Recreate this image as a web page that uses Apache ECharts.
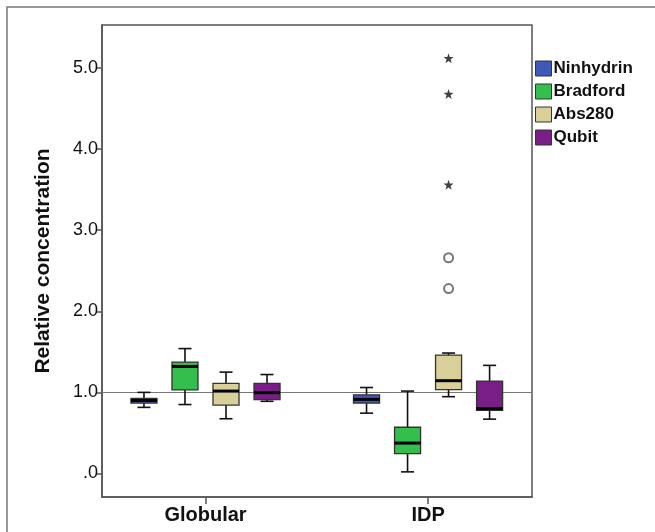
<!DOCTYPE html>
<html>
<head>
<meta charset="utf-8">
<script src="https://cdn.jsdelivr.net/npm/echarts@6/dist/echarts.min.js"></script>
<style>
  html, body { margin: 0; padding: 0; background: #fff; }
  #ch1 { width: 655px; height: 532px; }
</style>
</head>
<body>
<div id="ch1"></div>
<script>
// groups on the x axis and methods inside each group
const groups = ['Globular', 'IDP'];
const methods = ['Ninhydrin', 'Bradford', 'Abs280', 'Qubit'];
const colors = ['#3d5ab9', '#34be4b', '#d8d098', '#7a1e87'];
const yTicks = [0, 1, 2, 3, 4, 5];

// [min, q1, median, q3, max] per group
const ninhydrin = [[0.815, 0.868, 0.90, 0.926, 1.0], [0.744, 0.868, 0.914, 0.97, 1.06]];
const bradford = [[0.85, 1.03, 1.32, 1.374, 1.54], [0.02, 0.244, 0.375, 0.57, 1.016]];
const abs280 = [[0.675, 0.843, 1.016, 1.11, 1.25], [0.947, 1.033, 1.144, 1.46, 1.485]];
const qubit = [[0.89, 0.91, 0.996, 1.11, 1.22], [0.67, 0.778, 0.80, 1.14, 1.333]];

// IDP / Abs280 outliers (circles) and extremes (stars)
const abs280Outliers = [2.28, 2.66];
const abs280Extremes = [3.56, 4.68, 5.12];

const allBoxes = [ninhydrin, bradford, abs280, qubit];

const cht1 = echarts.init(document.getElementById('ch1'));

const groupPos = [1, 2];
const slot = 0.1843;
const offsets = [-1.5, -0.5, 0.5, 1.5].map((k) => k * slot);
const boxW = 0.117;

function renderBox(params, api) {
  const x = api.value(0);
  const half = api.size([boxW, 0])[0] / 2;
  const pMin = api.coord([x, api.value(1)]);
  const pQ1 = api.coord([x, api.value(2)]);
  const pMed = api.coord([x, api.value(3)]);
  const pQ3 = api.coord([x, api.value(4)]);
  const pMax = api.coord([x, api.value(5)]);
  const cx = pMin[0];
  const line = { stroke: '#111', lineWidth: 1.6 };
  return {
    type: 'group',
    children: [
      { type: 'line', shape: { x1: cx, y1: pMax[1], x2: cx, y2: pQ3[1] }, style: line },
      { type: 'line', shape: { x1: cx, y1: pQ1[1], x2: cx, y2: pMin[1] }, style: line },
      { type: 'line', shape: { x1: cx - half / 2, y1: pMax[1], x2: cx + half / 2, y2: pMax[1] }, style: line },
      { type: 'line', shape: { x1: cx - half / 2, y1: pMin[1], x2: cx + half / 2, y2: pMin[1] }, style: line },
      {
        type: 'rect',
        shape: { x: cx - half, y: pQ3[1], width: half * 2, height: pQ1[1] - pQ3[1] },
        style: { fill: api.visual('color'), stroke: '#333', lineWidth: 1.3 },
      },
      { type: 'line', shape: { x1: cx - half, y1: pMed[1], x2: cx + half, y2: pMed[1] }, style: { stroke: '#000', lineWidth: 3 } },
    ],
  };
}

const boxSeries = methods.map((name, i) => ({
  name,
  type: 'custom',
  renderItem: renderBox,
  itemStyle: { color: colors[i], borderColor: '#333' },
  encode: { x: 0, y: [1, 2, 3, 4, 5] },
  data: allBoxes[i].map((d, g) => [groupPos[g] + offsets[i], ...d]),
  z: 3,
}));

boxSeries[0].markLine = {
  silent: true,
  symbol: 'none',
  label: { show: false },
  lineStyle: { color: '#777', width: 1.2, type: 'solid' },
  data: [{ yAxis: 1 }],
  z: 1,
};

const starPath = 'path://M0,-10L2.35,-3.24L9.51,-3.09L3.8,1.24L5.88,8.09L0,4L-5.88,8.09L-3.8,1.24L-9.51,-3.09L-2.35,-3.24Z';
const outX = groupPos[1] + offsets[2];

const options1 = {
  animation: false,
  backgroundColor: '#fff',
  textStyle: { fontFamily: 'Liberation Sans, Arial, sans-serif' },
  graphic: [
    {
      type: 'rect',
      shape: { x: 7, y: 7, width: 700, height: 600 },
      style: { fill: 'none', stroke: '#777', lineWidth: 1.5 },
    },
  ],
  grid: {
    left: 102, right: 123, top: 25, bottom: 35,
    show: true, borderColor: '#555', borderWidth: 1.5,
  },
  legend: {
    orient: 'vertical',
    left: 530,
    top: 55,
    itemGap: 6,
    itemWidth: 16,
    itemHeight: 15,
    icon: 'rect',
    data: methods,
    itemStyle: { borderColor: '#333', borderWidth: 1 },
    textStyle: { fontSize: 17, fontWeight: 'bold', color: '#111', padding: [0, 0, 0, -3] },
  },
  xAxis: {
    type: 'value',
    min: 0.535,
    max: 2.467,
    splitLine: { show: false },
    axisLine: { show: true, onZero: false, lineStyle: { color: '#555', width: 1.5 } },
    axisTick: { show: true, customValues: groupPos, length: 7, lineStyle: { color: '#555', width: 1.5 } },
    axisLabel: {
      customValues: groupPos,
      formatter: (v) => groups[groupPos.indexOf(v)],
      fontSize: 20,
      fontWeight: 'bold',
      color: '#111',
      margin: 8,
    },
  },
  yAxis: {
    type: 'value',
    min: -0.29,
    max: 5.53,
    name: 'Relative concentration',
    nameLocation: 'middle',
    nameGap: 48,
    nameTextStyle: { fontSize: 21, fontWeight: 'bold', color: '#111' },
    splitLine: { show: false },
    axisLine: { show: true, onZero: false, lineStyle: { color: '#555', width: 1.5 } },
    axisTick: { show: true, customValues: yTicks, length: 6, lineStyle: { color: '#555', width: 1.5 } },
    axisLabel: {
      customValues: yTicks,
      formatter: (v) => (v === 0 ? '.0' : v.toFixed(1)),
      fontSize: 18,
      color: '#111',
      margin: 4,
    },
  },
  series: [
    ...boxSeries,
    {
      name: 'outliers',
      type: 'scatter',
      symbol: 'emptyCircle',
      symbolSize: 9,
      itemStyle: { color: '#555', borderColor: '#555', borderWidth: 1.3 },
      data: abs280Outliers.map((v) => [outX, v]),
      z: 4,
    },
    {
      name: 'extremes',
      type: 'scatter',
      symbol: starPath,
      symbolSize: 10,
      itemStyle: { color: '#111' },
      data: abs280Extremes.map((v) => [outX, v]),
      z: 4,
    },
  ],
};
cht1.setOption(options1);
</script>
</body>
</html>
